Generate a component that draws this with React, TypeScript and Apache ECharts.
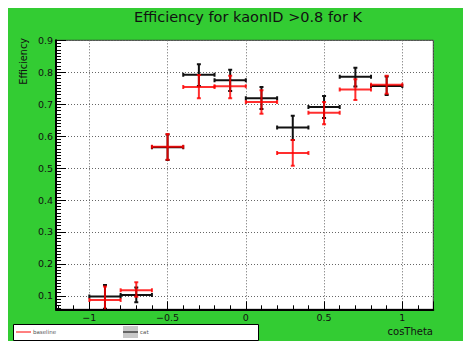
import React, { useEffect, useRef } from "react";
import * as echarts from "echarts";

// Bin centers (cosTheta) and bin width
const binCenters = [-0.9, -0.7, -0.5, -0.3, -0.1, 0.1, 0.3, 0.5, 0.7, 0.9];
const binWidth = 0.2;

// baseline efficiency with lower / upper error bar ends
const baselineEff = [0.087, 0.118, 0.567, 0.754, 0.756, 0.707, 0.547, 0.673, 0.746, 0.761];
const baselineLow = [0.04, 0.097, 0.526, 0.719, 0.719, 0.67, 0.507, 0.637, 0.713, 0.733];
const baselineHigh = [0.129, 0.143, 0.607, 0.791, 0.789, 0.744, 0.588, 0.707, 0.778, 0.789];

// cat efficiency with lower / upper error bar ends
const catEff = [0.098, 0.103, 0.565, 0.792, 0.775, 0.719, 0.627, 0.691, 0.786, 0.757];
const catLow = [0.06, 0.08, 0.525, 0.757, 0.741, 0.685, 0.588, 0.657, 0.755, 0.729];
const catHigh = [0.134, 0.126, 0.605, 0.825, 0.808, 0.754, 0.664, 0.726, 0.814, 0.787];

const FONT = "DejaVu Sans";

function buildData(eff: number[], lo: number[], hi: number[]) {
  return binCenters.map((c, i) => [c, eff[i], c - binWidth / 2, c + binWidth / 2, lo[i], hi[i]]);
}

function errRender(color: string) {
  return (params: any, api: any) => {
    const x = api.value(0);
    const y = api.value(1);
    const pC = api.coord([x, y]);
    const pL = api.coord([api.value(2), y]);
    const pR = api.coord([api.value(3), y]);
    const pT = api.coord([x, api.value(5)]);
    const pB = api.coord([x, api.value(4)]);
    const cap = 2;
    const style = { stroke: color, lineWidth: 2, fill: null };
    return {
      type: "group",
      children: [
        { type: "line", shape: { x1: pL[0], y1: pC[1], x2: pR[0], y2: pC[1] }, style },
        { type: "line", shape: { x1: pC[0], y1: pT[1], x2: pC[0], y2: pB[1] }, style },
        { type: "line", shape: { x1: pL[0], y1: pC[1] - cap, x2: pL[0], y2: pC[1] + cap }, style },
        { type: "line", shape: { x1: pR[0], y1: pC[1] - cap, x2: pR[0], y2: pC[1] + cap }, style },
        { type: "line", shape: { x1: pC[0] - cap, y1: pT[1], x2: pC[0] + cap, y2: pT[1] }, style },
        { type: "line", shape: { x1: pC[0] - cap, y1: pB[1], x2: pC[0] + cap, y2: pB[1] }, style },
      ],
    };
  };
}

export default function App() {
  const ref = useRef<HTMLDivElement>(null);
  useEffect(() => {
    if (!ref.current) return;
    const chart = echarts.init(ref.current, undefined, { renderer: "svg" });
    const splitLine = { show: true, lineStyle: { color: "#666", width: 1, type: [1, 2] as any } };
    chart.setOption({
      animation: false,
      backgroundColor: "#33cc33",
      title: {
        text: "Efficiency for kaonID >0.8 for K",
        left: 121,
        top: 2,
        textStyle: { fontFamily: FONT, fontSize: 14.5, fontWeight: "normal", color: "#111" },
      },
      grid: {
        left: 48,
        top: 38.3,
        right: 33.7,
        bottom: 31.7,
        show: true,
        backgroundColor: "#fff",
        borderColor: "#333",
        borderWidth: 1,
      },
      xAxis: {
        type: "value",
        min: -1.213,
        max: 1.198,
        splitNumber: 5,
        axisLine: { show: true, onZero: false, lineStyle: { color: "#000", width: 2 } },
        axisTick: { show: true, inside: true, length: 8, lineStyle: { color: "#000" } },
        minorTick: { show: true, splitNumber: 5, length: 4, lineStyle: { color: "#000" } },
        axisLabel: {
          showMinLabel: false,
          showMaxLabel: false,
          margin: 3,
          fontFamily: FONT,
          fontSize: 9.5,
          color: "#111",
          formatter: (v: number) => (v < 0 ? "\u2212" + String(-v) : String(v)),
        },
        splitLine,
      },
      yAxis: {
        type: "value",
        min: 0.058,
        max: 0.9,
        splitNumber: 8,
        axisLine: { show: true, onZero: false, lineStyle: { color: "#000", width: 2 } },
        axisTick: { show: true, inside: true, length: 10, lineStyle: { color: "#000" } },
        minorTick: { show: true, splitNumber: 10, length: 5, lineStyle: { color: "#000" } },
        axisLabel: {
          showMinLabel: false,
          margin: 3,
          fontFamily: FONT,
          fontSize: 9.5,
          color: "#111",
        },
        splitLine,
      },
      graphic: [
        {
          type: "text",
          x: 15,
          y: 36,
          rotation: Math.PI / 2,
          style: { text: "Efficiency", font: `9.7px '${FONT}'`, fill: "#111", textAlign: "right", textVerticalAlign: "middle" },
        },
        {
          type: "text",
          x: 425,
          y: 329,
          style: { text: "cosTheta", font: `10px '${FONT}'`, fill: "#111", textAlign: "right", textVerticalAlign: "middle" },
        },
        {
          type: "rect",
          shape: { x: 5.5, y: 322.5, width: 245, height: 16 },
          style: { fill: "#fff", stroke: "#000", lineWidth: 1 },
        },
        { type: "line", shape: { x1: 8, y1: 330, x2: 23, y2: 330 }, style: { stroke: "#ff0000", lineWidth: 1 } },
        {
          type: "text",
          x: 25,
          y: 330,
          style: { text: "baseline", font: `5.5px '${FONT}'`, fill: "#555", textVerticalAlign: "middle" },
        },
        { type: "rect", shape: { x: 115, y: 324, width: 15, height: 12 }, style: { fill: "#c8c8c8" } },
        { type: "line", shape: { x1: 115, y1: 330, x2: 130, y2: 330 }, style: { stroke: "#000", lineWidth: 1 } },
        {
          type: "text",
          x: 132,
          y: 330,
          style: { text: "cat", font: `5.5px '${FONT}'`, fill: "#555", textVerticalAlign: "middle" },
        },
      ],
      series: [
        {
          name: "cat",
          type: "custom",
          clip: true,
          encode: { x: 0, y: 1 },
          renderItem: errRender("#111"),
          data: buildData(catEff, catLow, catHigh),
        },
        {
          name: "baseline",
          type: "custom",
          clip: true,
          encode: { x: 0, y: 1 },
          renderItem: errRender("rgba(255,0,0,0.82)"),
          data: buildData(baselineEff, baselineLow, baselineHigh),
        },
      ],
    });
    return () => chart.dispose();
  }, []);
  return <div ref={ref} style={{ width: 459, height: 339, position: "relative", top: -6 }} />;
}
